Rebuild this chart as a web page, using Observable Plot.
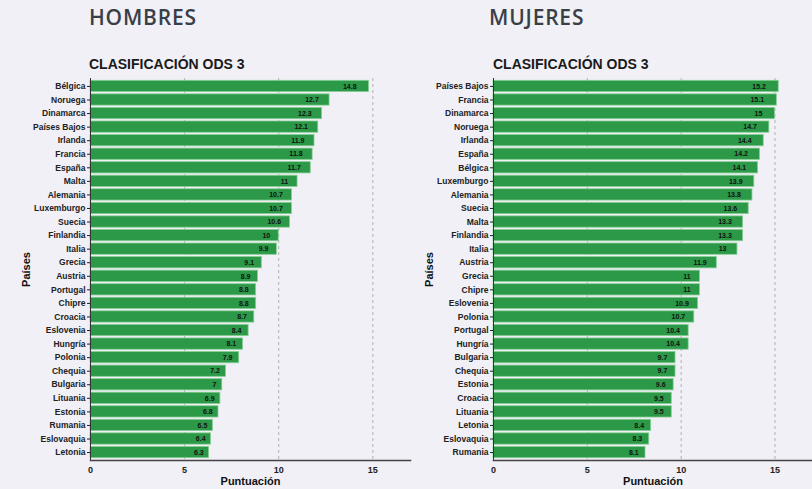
<!DOCTYPE html>
<html>
<head>
<meta charset="utf-8">
<script src="https://cdn.jsdelivr.net/npm/d3@7"></script>
<script src="https://cdn.jsdelivr.net/npm/@observablehq/plot@0.6"></script>
<style>
  html, body { margin: 0; padding: 0; background: #f0f0f6; }
  body { width: 812px; height: 489px; position: relative; overflow: hidden; font-family: "Liberation Sans", Arial, sans-serif; }
  .big { position: absolute; top: 3px; font-family: "Open Sans", sans-serif; font-size: 21px; font-weight: 600; color: #3a3f47; letter-spacing: 0.8px; }
  .sub { position: absolute; top: 56px; font-family: "Liberation Sans", Arial, sans-serif; font-size: 14px; font-weight: bold; color: #1a1a1a; }
  .panel { position: absolute; top: 72px; }
  .panel svg { background: transparent; overflow: visible; display: block; }
</style>
</head>
<body>
<div class="big" style="left:89px">HOMBRES</div>
<div class="big" style="left:489px">MUJERES</div>
<div class="sub" style="left:89px">CLASIFICACIÓN ODS 3</div>
<div class="sub" style="left:493px">CLASIFICACIÓN ODS 3</div>
<div class="panel" id="left" style="left:0px"></div>
<div class="panel" id="right" style="left:410px"></div>
<script>
const menCountries = ["Bélgica","Noruega","Dinamarca","Países Bajos","Irlanda","Francia","España","Malta","Alemania","Luxemburgo","Suecia","Finlandia","Italia","Grecia","Austria","Portugal","Chipre","Croacia","Eslovenia","Hungría","Polonia","Chequia","Bulgaria","Lituania","Estonia","Rumania","Eslovaquia","Letonia"];
const menValues = [14.8,12.7,12.3,12.1,11.9,11.8,11.7,11,10.7,10.7,10.6,10,9.9,9.1,8.9,8.8,8.8,8.7,8.4,8.1,7.9,7.2,7,6.9,6.8,6.5,6.4,6.3];

const womenCountries = ["Países Bajos","Francia","Dinamarca","Noruega","Irlanda","España","Bélgica","Luxemburgo","Alemania","Suecia","Malta","Finlandia","Italia","Austria","Grecia","Chipre","Eslovenia","Polonia","Portugal","Hungría","Bulgaria","Chequia","Estonia","Croacia","Lituania","Letonia","Eslovaquia","Rumania"];
const womenValues = [15.2,15.1,15,14.7,14.4,14.2,14.1,13.9,13.8,13.6,13.3,13.3,13,11.9,11,11,10.9,10.7,10.4,10.4,9.7,9.7,9.6,9.5,9.5,8.4,8.3,8.1];

const xTicks = [0,5,10,15];
const xLabel = "Puntuación";
const yLabel = "Países";

function panel(countries, values, width, marginLeft) {
  const data = countries.map((c, i) => ({c, v: values[i]}));
  return Plot.plot({
    width, height: 417,
    marginLeft, marginRight: 0, marginTop: 6, marginBottom: 29,
    style: {fontFamily: "'Liberation Sans', Arial, sans-serif", background: "transparent", color: "#222"},
    x: {domain: [0, 17]},
    y: {domain: countries, padding: 0.17, round: false},
    marks: [
      Plot.gridX({ticks: [5, 10, 15], stroke: "#888", strokeOpacity: 0.6, strokeDasharray: "3,3"}),
      Plot.barX(data, {x: "v", y: "c", fill: "#2b9947", stroke: "#86cf93", strokeWidth: 0.8}),
      Plot.text(data, {x: d => d.v * 0.955, y: "c", text: d => String(d.v), textAnchor: "end", fontSize: 7, fontWeight: "bold", fill: "#111"}),
      Plot.axisY({tickSize: 3, tickPadding: 2, fontSize: 8.5, fontWeight: "bold", label: yLabel, labelAnchor: "center", labelOffset: 68, labelArrow: "none"}),
      Plot.axisX({ticks: xTicks, tickSize: 0, tickPadding: 6, fontSize: 9, fontWeight: "bold", label: xLabel, labelAnchor: "center", labelOffset: 24, labelArrow: "none"}),
      Plot.frame({anchor: "left", stroke: "#333"}),
      Plot.frame({anchor: "bottom", stroke: "#444", strokeWidth: 1.5})
    ]
  });
}

const l = panel(menCountries, menValues, 410, 90);
const r = panel(womenCountries, womenValues, 402, 83);
document.getElementById("left").appendChild(l);
document.getElementById("right").appendChild(r);
for (const svg of [l, r]) {
  svg.querySelectorAll('[aria-label="y-axis label"] text, [aria-label="x-axis label"] text').forEach(t => {
    t.style.fontWeight = "bold";
    t.style.fontSize = "11px";
    t.style.fill = "#111";
  });
}
</script>
</body>
</html>
